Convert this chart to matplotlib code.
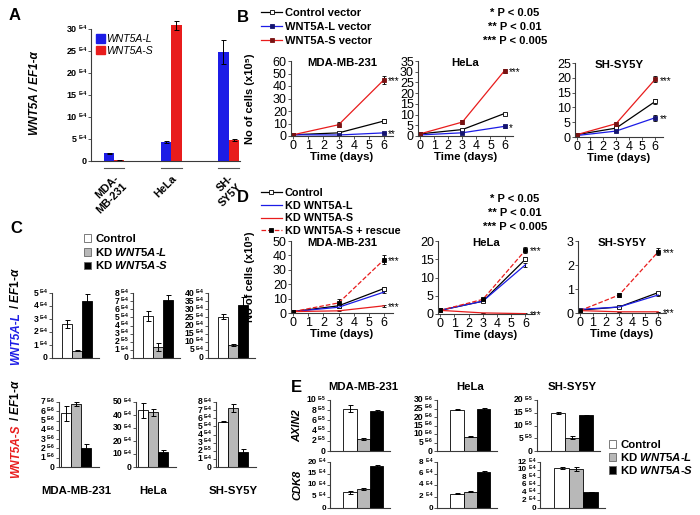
import numpy as np
import matplotlib
matplotlib.use('Agg')
import matplotlib.pyplot as plt
from matplotlib.lines import Line2D
from matplotlib.patches import Patch
from matplotlib.transforms import blended_transform_factory

plt.rcParams['font.family'] = ['Liberation Sans', 'DejaVu Sans']
plt.rcParams['mathtext.fontset'] = 'custom'
plt.rcParams['mathtext.it'] = 'Liberation Sans:italic:bold'
plt.rcParams['mathtext.rm'] = 'Liberation Sans:bold'
plt.rcParams['mathtext.bf'] = 'Liberation Sans:bold'

# --------------------------------------------------------------------
# DATA
# --------------------------------------------------------------------

# A: WNT5A isoform expression
a_cells = ['MDA-\nMB-231', 'HeLa', 'SH-\nSY5Y']
a_long = [1.8, 4.3, 24.8]
a_long_err = [0.1, 0.15, 2.8]
a_short = [0.15, 30.8, 4.8]
a_short_err = [0.05, 1.0, 0.3]
a_ticks = [0, 5, 10, 15, 20, 25, 30]
a_labels = ['0', '5 E-4', '10 E-4', '15 E-4', '20 E-4', '25 E-4', '30 E-4']

# B: growth curves, rows = control / WNT5A-L / WNT5A-S vector
days = [0, 3, 6]
cells = ['MDA-MB-231', 'HeLa', 'SH-SY5Y']
b_series = ['Control vector', 'WNT5A-L vector', 'WNT5A-S vector']
b_mda = [[1, 2.5, 12], [1, 0.8, 2.5], [1, 9, 45]]
b_mda_err = [[0.3, 0.6, 1.5], [0.2, 0.3, 0.3], [0.3, 2, 3]]
b_hela = [[1, 3, 10.5], [0.5, 1.5, 4.5], [1, 6.5, 30.5]]
b_hela_err = [[0.2, 0.4, 0.3], [0.2, 0.3, 0.8], [0.3, 1, 1]]
b_sh = [[0.8, 3, 12], [0.5, 2, 6.5], [0.8, 4.5, 19.5]]
b_sh_err = [[0.1, 0.3, 0.7], [0.1, 0.3, 1], [0.1, 0.4, 1]]
b_ymax = [60, 35, 25]
b_ystep = [10, 5, 5]
b_stars = [['', '**', '***'], ['', '*', '***'], ['', '**', '***']]

# D: growth curves after knock-down
d_series = ['Control', 'KD WNT5A-L', 'KD WNT5A-S', 'KD WNT5A-S + rescue']
d_mda = [[1, 5, 17], [1, 4, 14.5], [1, 1.5, 5], [1, 7, 37]]
d_mda_err = [[0.2, 0.8, 1], [0.2, 0.5, 0.8], [0.2, 0.3, 0.8], [0.2, 3, 3]]
d_hela = [[1, 3.5, 15], [1, 3.5, 13.5], [1, 0.3, 0.1], [1, 4, 17.5]]
d_hela_err = [[0.1, 0.3, 0.6], [0.1, 0.3, 0.6], [0.1, 0.1, 0.05], [0.1, 0.3, 0.8]]
d_sh = [[0.12, 0.25, 0.85], [0.15, 0.25, 0.75], [0.1, 0.05, 0.05], [0.1, 0.75, 2.55]]
d_sh_err = [[0.02, 0.03, 0.04], [0.02, 0.03, 0.05], [0.01, 0.01, 0.01], [0.02, 0.1, 0.15]]
d_ymax = [50, 20, 3]
d_ystep = [10, 5, 1]
d_stars = [['', '', '***', '***'], ['', '', '***', '***'], ['', '', '***', '***']]

p_lines = ['* P < 0.05', '** P < 0.01', '*** P < 0.005']

# C: WNT5A-L and WNT5A-S after knock-down (Control, KD L, KD S)
kd_groups = ['Control', 'KD $\\mathit{WNT5A}$-$\\mathit{L}$', 'KD $\\mathit{WNT5A}$-$\\mathit{S}$']
c_l_mda = [2.6, 0.55, 4.35]
c_l_mda_err = [0.3, 0.03, 0.6]
c_l_mda_ticks = ['0', '1 E-4', '2 E-4', '3 E-4', '4 E-4', '5 E-4']
c_l_hela = [5.2, 1.4, 7.1]
c_l_hela_err = [0.6, 0.5, 0.7]
c_l_hela_ticks = ['0', '1 E-4', '2 E-5', '3 E-4', '4 E-4', '5 E-4', '6 E-4', '7 E-4', '8 E-4']
c_l_sh = [25.5, 8, 32.5]
c_l_sh_err = [1.5, 0.8, 5]
c_l_sh_ticks = ['0', '5 E-4', '10 E-4', '15 E-4', '20 E-4', '25 E-4', '30 E-4', '35 E-4', '40 E-4']
c_s_mda = [5.8, 6.75, 2.1]
c_s_mda_err = [0.8, 0.2, 0.35]
c_s_mda_ticks = ['0', '1 E-6', '2 E-6', '3 E-6', '4 E-6', '5 E-6', '6 E-6', '7 E-6']
c_s_hela = [43.5, 42, 11.5]
c_s_hela_err = [5.5, 2.5, 1.5]
c_s_hela_ticks = ['0', '10 E-4', '20 E-4', '30 E-4', '40 E-4', '50 E-4']
c_s_sh = [5.6, 7.3, 1.9]
c_s_sh_err = [0.05, 0.5, 0.3]
c_s_sh_ticks = ['0', '1 E-4', '2 E-5', '3 E-4', '4 E-4', '5 E-4', '6 E-4', '7 E-4', '8 E-4']
c_l_step = [1, 1, 5]
c_s_step = [1, 10, 1]

# E: AXIN2 and CDK8 after knock-down
e_axin_mda = [8.3, 2.4, 7.8]
e_axin_mda_err = [0.7, 0.15, 0.2]
e_axin_mda_ticks = ['0', '2 E-5', '4 E-5', '6 E-5', '8 E-5', '10 E-5']
e_axin_hela = [24.3, 8.5, 24.8]
e_axin_hela_err = [0.4, 0.3, 0.6]
e_axin_hela_ticks = ['0', '5 E-6', '10 E-6', '15 E-6', '20 E-6', '25 E-6', '30 E-6']
e_axin_sh = [14.8, 5.2, 14.0]
e_axin_sh_err = [0.4, 0.6, 0.2]
e_axin_sh_ticks = ['0', '5 E-5', '10 E-5', '15 E-5', '20 E-5']
e_cdk_mda = [6.9, 8.3, 18.4]
e_cdk_mda_err = [0.6, 0.3, 0.5]
e_cdk_mda_ticks = ['0', '5 E-4', '10 E-4', '15 E-4', '20 E-4']
e_cdk_hela = [2.5, 2.85, 6.3]
e_cdk_hela_err = [0.06, 0.1, 0.15]
e_cdk_hela_ticks = ['0', '2 E-4', '4 E-4', '6 E-4', '8 E-4']
e_cdk_sh = [10.5, 10.2, 4.2]
e_cdk_sh_err = [0.3, 0.5, 0.1]
e_cdk_sh_ticks = ['0', '2 E-4', '4 E-4', '6 E-4', '8 E-4', '10 E-4', '12 E-4']
e_axin_step = [2, 5, 5]
e_cdk_step = [5, 2, 2]

# --------------------------------------------------------------------
# HELPERS
# --------------------------------------------------------------------

W, H = 700.0, 515.0
fig = plt.figure(figsize=(7, 5.15), dpi=100)
AX_COL = '#3a3a3a'
BLUE = '#1c1ce6'
RED = '#e81c1c'
kd_colors = ['white', '#b8b8b8', 'black']


def box(l, t, r, b):
    return fig.add_axes([l / W, 1 - b / H, (r - l) / W, (b - t) / H])


def fpos(x, y):
    return (x / W, 1 - y / H)


def clean(ax):
    for s in ['top', 'right']:
        ax.spines[s].set_visible(False)
    for s in ['left', 'bottom']:
        ax.spines[s].set_color(AX_COL)
        ax.spines[s].set_linewidth(0.8)


def sci_ticks(ax, ticks, labels, fs=6.2):
    ax.set_yticks(ticks)
    ax.set_yticklabels([])
    ax.tick_params(axis='y', length=2, width=0.6, color=AX_COL)
    for t, lab in zip(ticks, labels):
        num, _, ex = lab.partition(' ')
        gap = 3.0
        if ex:
            ax.annotate(ex, (0, t), xycoords=('axes fraction', 'data'),
                        xytext=(-gap, 1.3), textcoords='offset points',
                        ha='right', va='center', fontsize=fs * 0.58,
                        fontweight='bold', annotation_clip=False)
            gap += fs * 0.58 * 0.55 * len(ex) + 1.0
        ax.annotate(num, (0, t), xycoords=('axes fraction', 'data'),
                    xytext=(-gap, 0), textcoords='offset points',
                    ha='right', va='center', fontsize=fs,
                    fontweight='bold', annotation_clip=False)


def bars3(ax, vals, errs, labels, step, xlim, fs=6.2):
    x = np.arange(len(vals))
    ax.bar(x, vals, width=1.0, color=kd_colors, edgecolor='black', linewidth=0.6,
           yerr=errs, capsize=1.8,
           error_kw=dict(elinewidth=0.7, capthick=0.7, ecolor='black'))
    ticks = [i * step for i in range(len(labels))]
    ax.set_xlim(*xlim)
    ax.set_ylim(0, ticks[-1])
    ax.set_xticks([])
    sci_ticks(ax, ticks, labels, fs)
    clean(ax)


def growth(ax, data, errs, styles, stars, ymax, ystep, title):
    for y, e, st, star in zip(data, errs, styles, stars):
        ax.errorbar(days, y, yerr=e, capsize=1.5, elinewidth=0.7, capthick=0.7,
                    ecolor='black', markersize=3, markeredgewidth=0.6, **st)
        if star:
            ax.annotate(star, (days[-1], y[-1]), xytext=(3, -1),
                        textcoords='offset points', ha='left', va='center',
                        fontsize=7, annotation_clip=False)
    ax.set_xlim(-0.15, 6.6)
    ax.set_ylim(0, ymax)
    ax.set_xticks(range(7))
    ax.set_yticks(range(0, ymax + 1, ystep))
    ax.tick_params(labelsize=9, length=2, width=0.6, pad=1, color=AX_COL)
    ax.set_xlabel('Time (days)', fontsize=8.2, fontweight='bold', labelpad=0)
    ax.text(0.5, 0.97, title, transform=ax.transAxes, ha='center', va='center',
            fontsize=8.2, fontweight='bold')
    clean(ax)


# --------------------------------------------------------------------
# PANEL A
# --------------------------------------------------------------------

ax = box(91, 18, 240, 161)
x = np.arange(len(a_cells))
ax.bar(x - 0.09, a_long, width=0.18, color=BLUE, yerr=a_long_err, capsize=1.8,
       error_kw=dict(elinewidth=0.7, capthick=0.7, ecolor='black'))
ax.bar(x + 0.09, a_short, width=0.18, color=RED, yerr=a_short_err, capsize=1.8,
       error_kw=dict(elinewidth=0.7, capthick=0.7, ecolor='black'))
ax.set_xlim(-0.4, 2.2)
ax.set_ylim(0, 32.5)
sci_ticks(ax, a_ticks, a_labels, fs=6.5)
clean(ax)
ax.spines['left'].set_bounds(0, 30)
ax.set_xticks(x)
ax.set_xticklabels(a_cells, rotation=45, ha='right', rotation_mode='anchor',
                   fontsize=7.8, fontweight='bold')
ax.tick_params(axis='x', length=0, pad=9)
tr = blended_transform_factory(ax.transData, ax.transAxes)
for xi in x:
    ax.plot([xi - 0.18, xi + 0.18], [-0.05, -0.05], transform=tr, clip_on=False,
            color='#555555', lw=0.8)
fig.legend([Patch(color=BLUE), Patch(color=RED)], ['WNT5A-L', 'WNT5A-S'],
           loc='upper left', bbox_to_anchor=fpos(96, 34), frameon=False,
           prop={'style': 'italic', 'size': 7.5}, handlelength=0.85,
           handleheight=0.85, handletextpad=0.15, labelspacing=0.15,
           borderpad=0, borderaxespad=0)
fig.text(*fpos(35, 93), 'WNT5A / EF1-α', rotation=90, ha='center', va='center',
         fontsize=8.5, fontweight='bold', fontstyle='italic')

# --------------------------------------------------------------------
# PANEL B
# --------------------------------------------------------------------

b_styles = [dict(color='black', lw=0.9, marker='s', mfc='white', mec='black'),
            dict(color=BLUE, lw=0.9, marker='s', mfc='#141470', mec='#141470'),
            dict(color=RED, lw=0.9, marker='s', mfc='#7a1212', mec='#7a1212')]
b_boxes = [(291, 61, 393, 136), (418, 61, 513, 136), (575, 63, 663, 137)]
for bx, dat, err, stars, ym, ys, name in zip(b_boxes, [b_mda, b_hela, b_sh],
                                             [b_mda_err, b_hela_err, b_sh_err],
                                             b_stars, b_ymax, b_ystep, cells):
    growth(box(*bx), dat, err, b_styles, stars, ym, ys, name)

fig.legend([Line2D([], [], markersize=3, markeredgewidth=0.6, **st) for st in b_styles],
           b_series, loc='upper left', bbox_to_anchor=fpos(261, 8), frameon=False,
           prop={'weight': 'bold', 'size': 8}, handlelength=1.9, handletextpad=0.3,
           labelspacing=0.35, borderpad=0, borderaxespad=0)
for i, s in enumerate(p_lines):
    fig.text(*fpos(515, 13 + 14 * i), s, ha='center', va='center',
             fontsize=8, fontweight='bold')
fig.text(*fpos(250, 99), 'No of cells (x10⁵)', rotation=90, ha='center',
         va='center', fontsize=8, fontweight='bold')

# --------------------------------------------------------------------
# PANEL D
# --------------------------------------------------------------------

d_styles = [dict(color='black', lw=0.9, marker='s', mfc='white', mec='black'),
            dict(color=BLUE, lw=0.9),
            dict(color=RED, lw=0.9),
            dict(color=RED, lw=0.9, ls='--', marker='s', mfc='black', mec='black')]
d_boxes = [(291, 241, 393, 313), (438, 241, 534, 314), (578, 241, 666, 313)]
for bx, dat, err, stars, ym, ys, name in zip(d_boxes, [d_mda, d_hela, d_sh],
                                             [d_mda_err, d_hela_err, d_sh_err],
                                             d_stars, d_ymax, d_ystep, cells):
    growth(box(*bx), dat, err, d_styles, stars, ym, ys, name)

fig.legend([Line2D([], [], markersize=3, markeredgewidth=0.6, **st) for st in d_styles],
           d_series, loc='upper left', bbox_to_anchor=fpos(261, 188), frameon=False,
           prop={'weight': 'bold', 'size': 7.8}, handlelength=1.9, handletextpad=0.3,
           labelspacing=0.25, borderpad=0, borderaxespad=0)
for i, s in enumerate(p_lines):
    fig.text(*fpos(515, 199 + 14 * i), s, ha='center', va='center',
             fontsize=8, fontweight='bold')
fig.text(*fpos(250, 277), 'No of cells (x10⁵)', rotation=90, ha='center',
         va='center', fontsize=8, fontweight='bold')

# --------------------------------------------------------------------
# PANEL C
# --------------------------------------------------------------------

c_top = [(c_l_mda, c_l_mda_err, c_l_mda_ticks), (c_l_hela, c_l_hela_err, c_l_hela_ticks),
         (c_l_sh, c_l_sh_err, c_l_sh_ticks)]
c_bot = [(c_s_mda, c_s_mda_err, c_s_mda_ticks), (c_s_hela, c_s_hela_err, c_s_hela_ticks),
         (c_s_sh, c_s_sh_err, c_s_sh_ticks)]
for left, (v, e, t), st in zip([52, 133, 208], c_top, c_l_step):
    bars3(box(left, 293, left + 47, 358), v, e, t, st, (-1.5, 3.2))
for left, (v, e, t), st, name in zip([59, 136, 216], c_bot, c_s_step, cells):
    ax = box(left, 402, left + 40, 467)
    bars3(ax, v, e, t, st, (-0.7, 3.3))
    ax.annotate(name, (1, 0), xycoords=('data', 'axes fraction'), xytext=(0, -17),
                textcoords='offset points', ha='center', va='center',
                fontsize=8.2, fontweight='bold', annotation_clip=False)

kd_handles = [Patch(facecolor=c, edgecolor='#666666', linewidth=0.6) for c in kd_colors]
fig.legend(kd_handles, kd_groups, loc='upper left', bbox_to_anchor=fpos(84, 234),
           frameon=False, prop={'weight': 'bold', 'size': 8.2}, handlelength=0.65,
           handleheight=0.65, handletextpad=0.35, labelspacing=0.15,
           borderpad=0, borderaxespad=0)

for yy, gene, col in [(312, 'WNT5A-L', BLUE), (424, 'WNT5A-S', RED)]:
    fig.text(*fpos(19, yy), gene, rotation=90, rotation_mode='anchor', ha='right',
             va='baseline', color=col, fontsize=8.5, fontweight='bold',
             fontstyle='italic')
    fig.text(*fpos(19, yy), ' / $\\mathit{EF1}$-$\\mathit{α}$', rotation=90,
             rotation_mode='anchor', ha='left', va='baseline', fontsize=8.5,
             fontweight='bold')

# --------------------------------------------------------------------
# PANEL E
# --------------------------------------------------------------------

e_top = [(e_axin_mda, e_axin_mda_err, e_axin_mda_ticks),
         (e_axin_hela, e_axin_hela_err, e_axin_hela_ticks),
         (e_axin_sh, e_axin_sh_err, e_axin_sh_ticks)]
e_bot = [(e_cdk_mda, e_cdk_mda_err, e_cdk_mda_ticks),
         (e_cdk_hela, e_cdk_hela_err, e_cdk_hela_ticks),
         (e_cdk_sh, e_cdk_sh_err, e_cdk_sh_ticks)]
for (left, right), (v, e, t), st, name in zip([(330, 390), (437, 497), (537, 600)],
                                              e_top, e_axin_step, cells):
    ax = box(left, 400, right, 451)
    bars3(ax, v, e, t, st, (-1.5, 3.0))
    ax.annotate(name, (1, 1), xycoords=('data', 'axes fraction'), xytext=(0, 9),
                textcoords='offset points', ha='center', va='center',
                fontsize=8.2, fontweight='bold', annotation_clip=False)
for (left, right), (v, e, t), st in zip([(330, 390), (437, 497), (540, 605)],
                                        e_bot, e_cdk_step):
    bars3(box(left, 462, right, 508), v, e, t, st, (-1.5, 3.0), fs=5.9)

fig.legend(kd_handles, kd_groups, loc='upper left', bbox_to_anchor=fpos(609, 440),
           frameon=False, prop={'weight': 'bold', 'size': 8.2}, handlelength=0.65,
           handleheight=0.65, handletextpad=0.35, labelspacing=0.1,
           borderpad=0, borderaxespad=0)
fig.text(*fpos(297, 426), 'AXIN2', rotation=90, ha='center', va='center',
         fontsize=8, fontweight='bold', fontstyle='italic')
fig.text(*fpos(297, 485), 'CDK8', rotation=90, ha='center', va='center',
         fontsize=8, fontweight='bold', fontstyle='italic')

# panel letters
for letter, (lx, ly) in zip('ABCDE', [(15, 15), (243, 17), (16, 229), (243, 197), (296, 388)]):
    fig.text(*fpos(lx, ly), letter, ha='center', va='center', fontsize=12,
             fontweight='bold')

fig.savefig('out.png', dpi=100)
